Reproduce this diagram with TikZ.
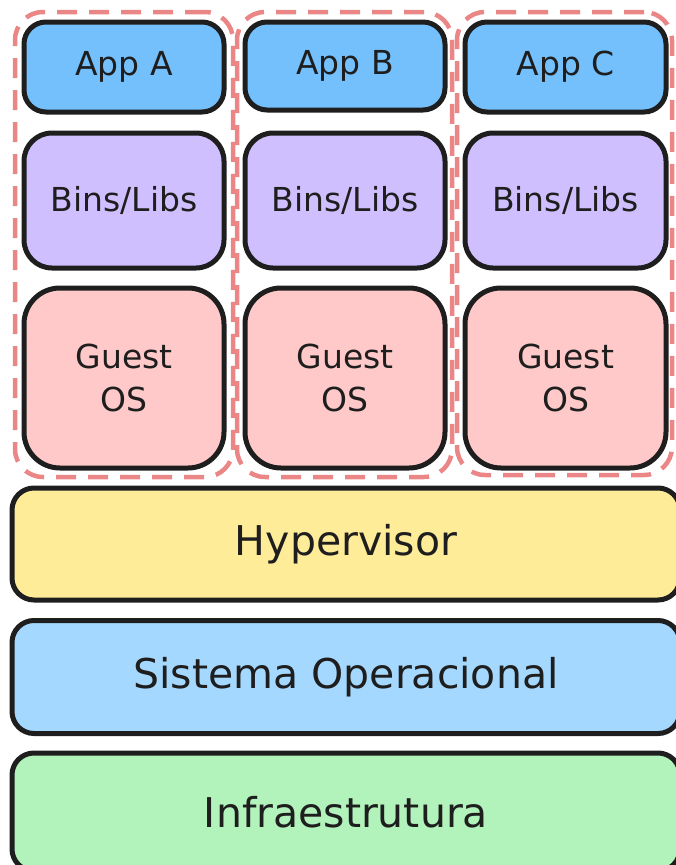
\documentclass[tikz,border=0pt]{standalone}
\usepackage{fontspec}
\setmainfont{DejaVu Sans}
\definecolor{ink}{HTML}{1E1E1E}
\definecolor{appblue}{HTML}{74C0FC}
\definecolor{binpurple}{HTML}{D0BFFF}
\definecolor{ospink}{HTML}{FFC9C9}
\definecolor{hypyellow}{HTML}{FFEC99}
\definecolor{soblue}{HTML}{A5D8FF}
\definecolor{infgreen}{HTML}{B2F2BB}
\definecolor{dashred}{HTML}{EB8686}
\tikzset{
  layerbox/.style={draw=ink, line width=5pt, rounded corners=22pt, inner sep=0pt,
    text=ink, align=center},
  vmframe/.style={draw=dashred, line width=4.5pt, dash pattern=on 20pt off 12pt,
    rounded corners=28pt, inner sep=0pt},
  small/.style={font=\fontsize{33}{43}\selectfont},
  big/.style={font=\fontsize{41}{46}\selectfont},
}
\begin{document}
\begin{tikzpicture}[x=1pt,y=-1pt]
\useasboundingbox (0,0) rectangle (676,865);
% VM frames
\node[vmframe, minimum width=218pt, minimum height=465pt] (vmA) at (124,244.5) {};
\node[vmframe, minimum width=215pt, minimum height=465pt] (vmB) at (344.5,244.5) {};
\node[vmframe, minimum width=215pt, minimum height=463pt] (vmC) at (564.5,243.5) {};
% Apps
\node[layerbox, small, fill=appblue, minimum width=200pt, minimum height=90pt] (appA) at (124,67) {App A};
\node[layerbox, small, fill=appblue, minimum width=200pt, minimum height=88pt] (appB) at (345,66) {App B};
\node[layerbox, small, fill=appblue, minimum width=201pt, minimum height=90pt] (appC) at (565.5,67) {App C};
% Bins/Libs
\node[layerbox, small, fill=binpurple, rounded corners=28pt, minimum width=200pt, minimum height=135pt] (binA) at (124,200.5) {Bins/Libs};
\node[layerbox, small, fill=binpurple, rounded corners=28pt, minimum width=200pt, minimum height=135pt] (binB) at (345,200.5) {Bins/Libs};
\node[layerbox, small, fill=binpurple, rounded corners=28pt, minimum width=201pt, minimum height=135pt] (binC) at (565.5,200.5) {Bins/Libs};
% Guest OS
\node[layerbox, small, fill=ospink, rounded corners=36pt, minimum width=200pt, minimum height=180pt] (osA) at (124,378) {Guest\\OS};
\node[layerbox, small, fill=ospink, rounded corners=36pt, minimum width=200pt, minimum height=180pt] (osB) at (345,378) {Guest\\OS};
\node[layerbox, small, fill=ospink, rounded corners=36pt, minimum width=201pt, minimum height=180pt] (osC) at (565.5,378) {Guest\\OS};
% Bottom layers
\node[layerbox, big, fill=hypyellow, minimum width=668pt, minimum height=112pt] (hyp) at (346,544) {Hypervisor};
\node[layerbox, big, fill=soblue, minimum width=668pt, minimum height=113pt] (sos) at (346,677) {Sistema Operacional};
\node[layerbox, big, fill=infgreen, minimum width=668pt, minimum height=118pt] (inf) at (346,812) {Infraestrutura};
\end{tikzpicture}
\end{document}
